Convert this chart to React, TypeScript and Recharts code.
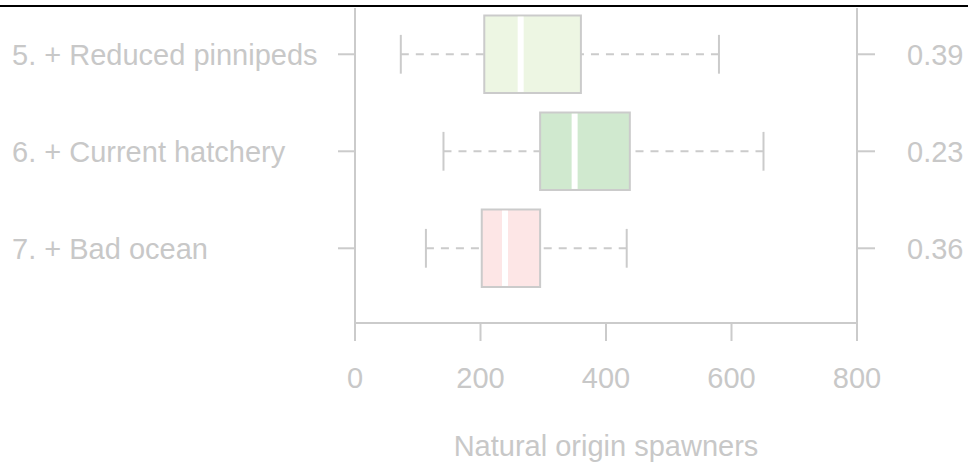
import React from 'react';
import {
  ComposedChart,
  XAxis,
  YAxis,
  Scatter,
  ReferenceArea,
  ReferenceLine,
} from 'recharts';

// ---- data ----
const categories = ['5. + Reduced pinnipeds', '6. + Current hatchery', '7. + Bad ocean'];
const rowPositions = [5, 6, 7];
const rightLabels = ['0.39', '0.23', '0.36'];
const whiskerLow = [73, 141, 113];
const quartile1 = [206, 295, 202];
const medians = [264, 350, 239];
const quartile3 = [360, 438, 295];
const whiskerHigh = [580, 651, 433];
const boxFills = ['#edf6e3', '#d0e9cf', '#fde6e6'];
const xTicks = [0, 200, 400, 600, 800];

const TEXT = '#c8c8c8';
const LINE = '#cbcbcb';
const FONT = '"Liberation Sans", Arial, sans-serif';
const FS = 29;

const rows = categories.map((name, i) => ({
  name,
  pos: rowPositions[i],
  low: whiskerLow[i],
  q1: quartile1[i],
  med: medians[i],
  q3: quartile3[i],
  high: whiskerHigh[i],
  fill: boxFills[i],
  right: rightLabels[i],
}));

const HALF_BOX = 0.4;
const HALF_CAP = 0.2;

export default function App() {
  const leftFmt = (v: number) => {
    const idx = rowPositions.indexOf(v);
    return idx >= 0 ? categories[idx] : '';
  };
  const rightFmt = (v: number) => {
    const idx = rowPositions.indexOf(v);
    return idx >= 0 ? rightLabels[idx] : '';
  };
  const tickStyle = { fill: TEXT, fontSize: FS, fontFamily: FONT };
  const lineStyle = { stroke: LINE, strokeWidth: 2 };

  return (
    <div style={{ position: 'absolute', left: 0, top: 0, width: 968, height: 462, background: '#fff' }}>
      <div style={{ position: 'absolute', left: 0, top: 5, width: 968, height: 2, background: '#000' }} />
      <ComposedChart
        width={968}
        height={462}
        layout="vertical"
        data={rows}
        margin={{ top: 8, right: 0, bottom: 0, left: 0 }}
      >
        <XAxis
          type="number"
          dataKey="med"
          domain={[0, 800]}
          ticks={xTicks}
          interval={0}
          allowDataOverflow
          height={139}
          tickSize={18}
          tickMargin={26}
          tick={tickStyle}
          axisLine={lineStyle}
          tickLine={lineStyle}
          label={{
            value: 'Natural origin spawners',
            position: 'insideBottom',
            offset: 6,
            fill: TEXT,
            fontSize: FS,
            fontFamily: FONT,
          }}
        />
        <YAxis
          yAxisId={0}
          type="number"
          dataKey="pos"
          domain={[4.523, 7.77]}
          allowDataOverflow
          ticks={rowPositions}
          interval={0}
          width={355}
          tickSize={17}
          tickMargin={326}
          tickFormatter={leftFmt}
          tick={{ ...tickStyle, textAnchor: 'start' }}
          axisLine={lineStyle}
          tickLine={lineStyle}
        />
        <YAxis
          yAxisId="right"
          orientation="right"
          type="number"
          dataKey="pos"
          domain={[4.523, 7.77]}
          allowDataOverflow
          ticks={rowPositions}
          interval={0}
          width={111}
          tickSize={18}
          tickMargin={32}
          tickFormatter={rightFmt}
          tick={tickStyle}
          axisLine={lineStyle}
          tickLine={lineStyle}
        />
        {rows.map((r) => (
          <ReferenceLine
            key={'wl' + r.pos}
            segment={[{ x: r.low, y: r.pos }, { x: r.q1, y: r.pos }]}
            stroke={LINE}
            strokeWidth={2}
            strokeDasharray="8 7"
          />
        ))}
        {rows.map((r) => (
          <ReferenceLine
            key={'wh' + r.pos}
            segment={[{ x: r.high, y: r.pos }, { x: r.q3, y: r.pos }]}
            stroke={LINE}
            strokeWidth={2}
            strokeDasharray="8 7"
          />
        ))}
        {rows.map((r) => (
          <ReferenceLine
            key={'cl' + r.pos}
            segment={[{ x: r.low, y: r.pos - HALF_CAP }, { x: r.low, y: r.pos + HALF_CAP }]}
            stroke={LINE}
            strokeWidth={2}
          />
        ))}
        {rows.map((r) => (
          <ReferenceLine
            key={'ch' + r.pos}
            segment={[{ x: r.high, y: r.pos - HALF_CAP }, { x: r.high, y: r.pos + HALF_CAP }]}
            stroke={LINE}
            strokeWidth={2}
          />
        ))}
        {rows.map((r) => (
          <ReferenceArea
            key={'box' + r.pos}
            x1={r.q1}
            x2={r.q3}
            y1={r.pos - HALF_BOX}
            y2={r.pos + HALF_BOX}
            fill={r.fill}
            fillOpacity={1}
            stroke={LINE}
            strokeWidth={2}
          />
        ))}
        {rows.map((r) => (
          <ReferenceLine
            key={'med' + r.pos}
            segment={[{ x: r.med, y: r.pos - HALF_BOX + 0.012 }, { x: r.med, y: r.pos + HALF_BOX - 0.012 }]}
            stroke="#ffffff"
            strokeWidth={6}
          />
        ))}
        <Scatter
          dataKey="pos"
          isAnimationActive={false}
          shape={() => <g />}
        />
      </ComposedChart>
    </div>
  );
}
